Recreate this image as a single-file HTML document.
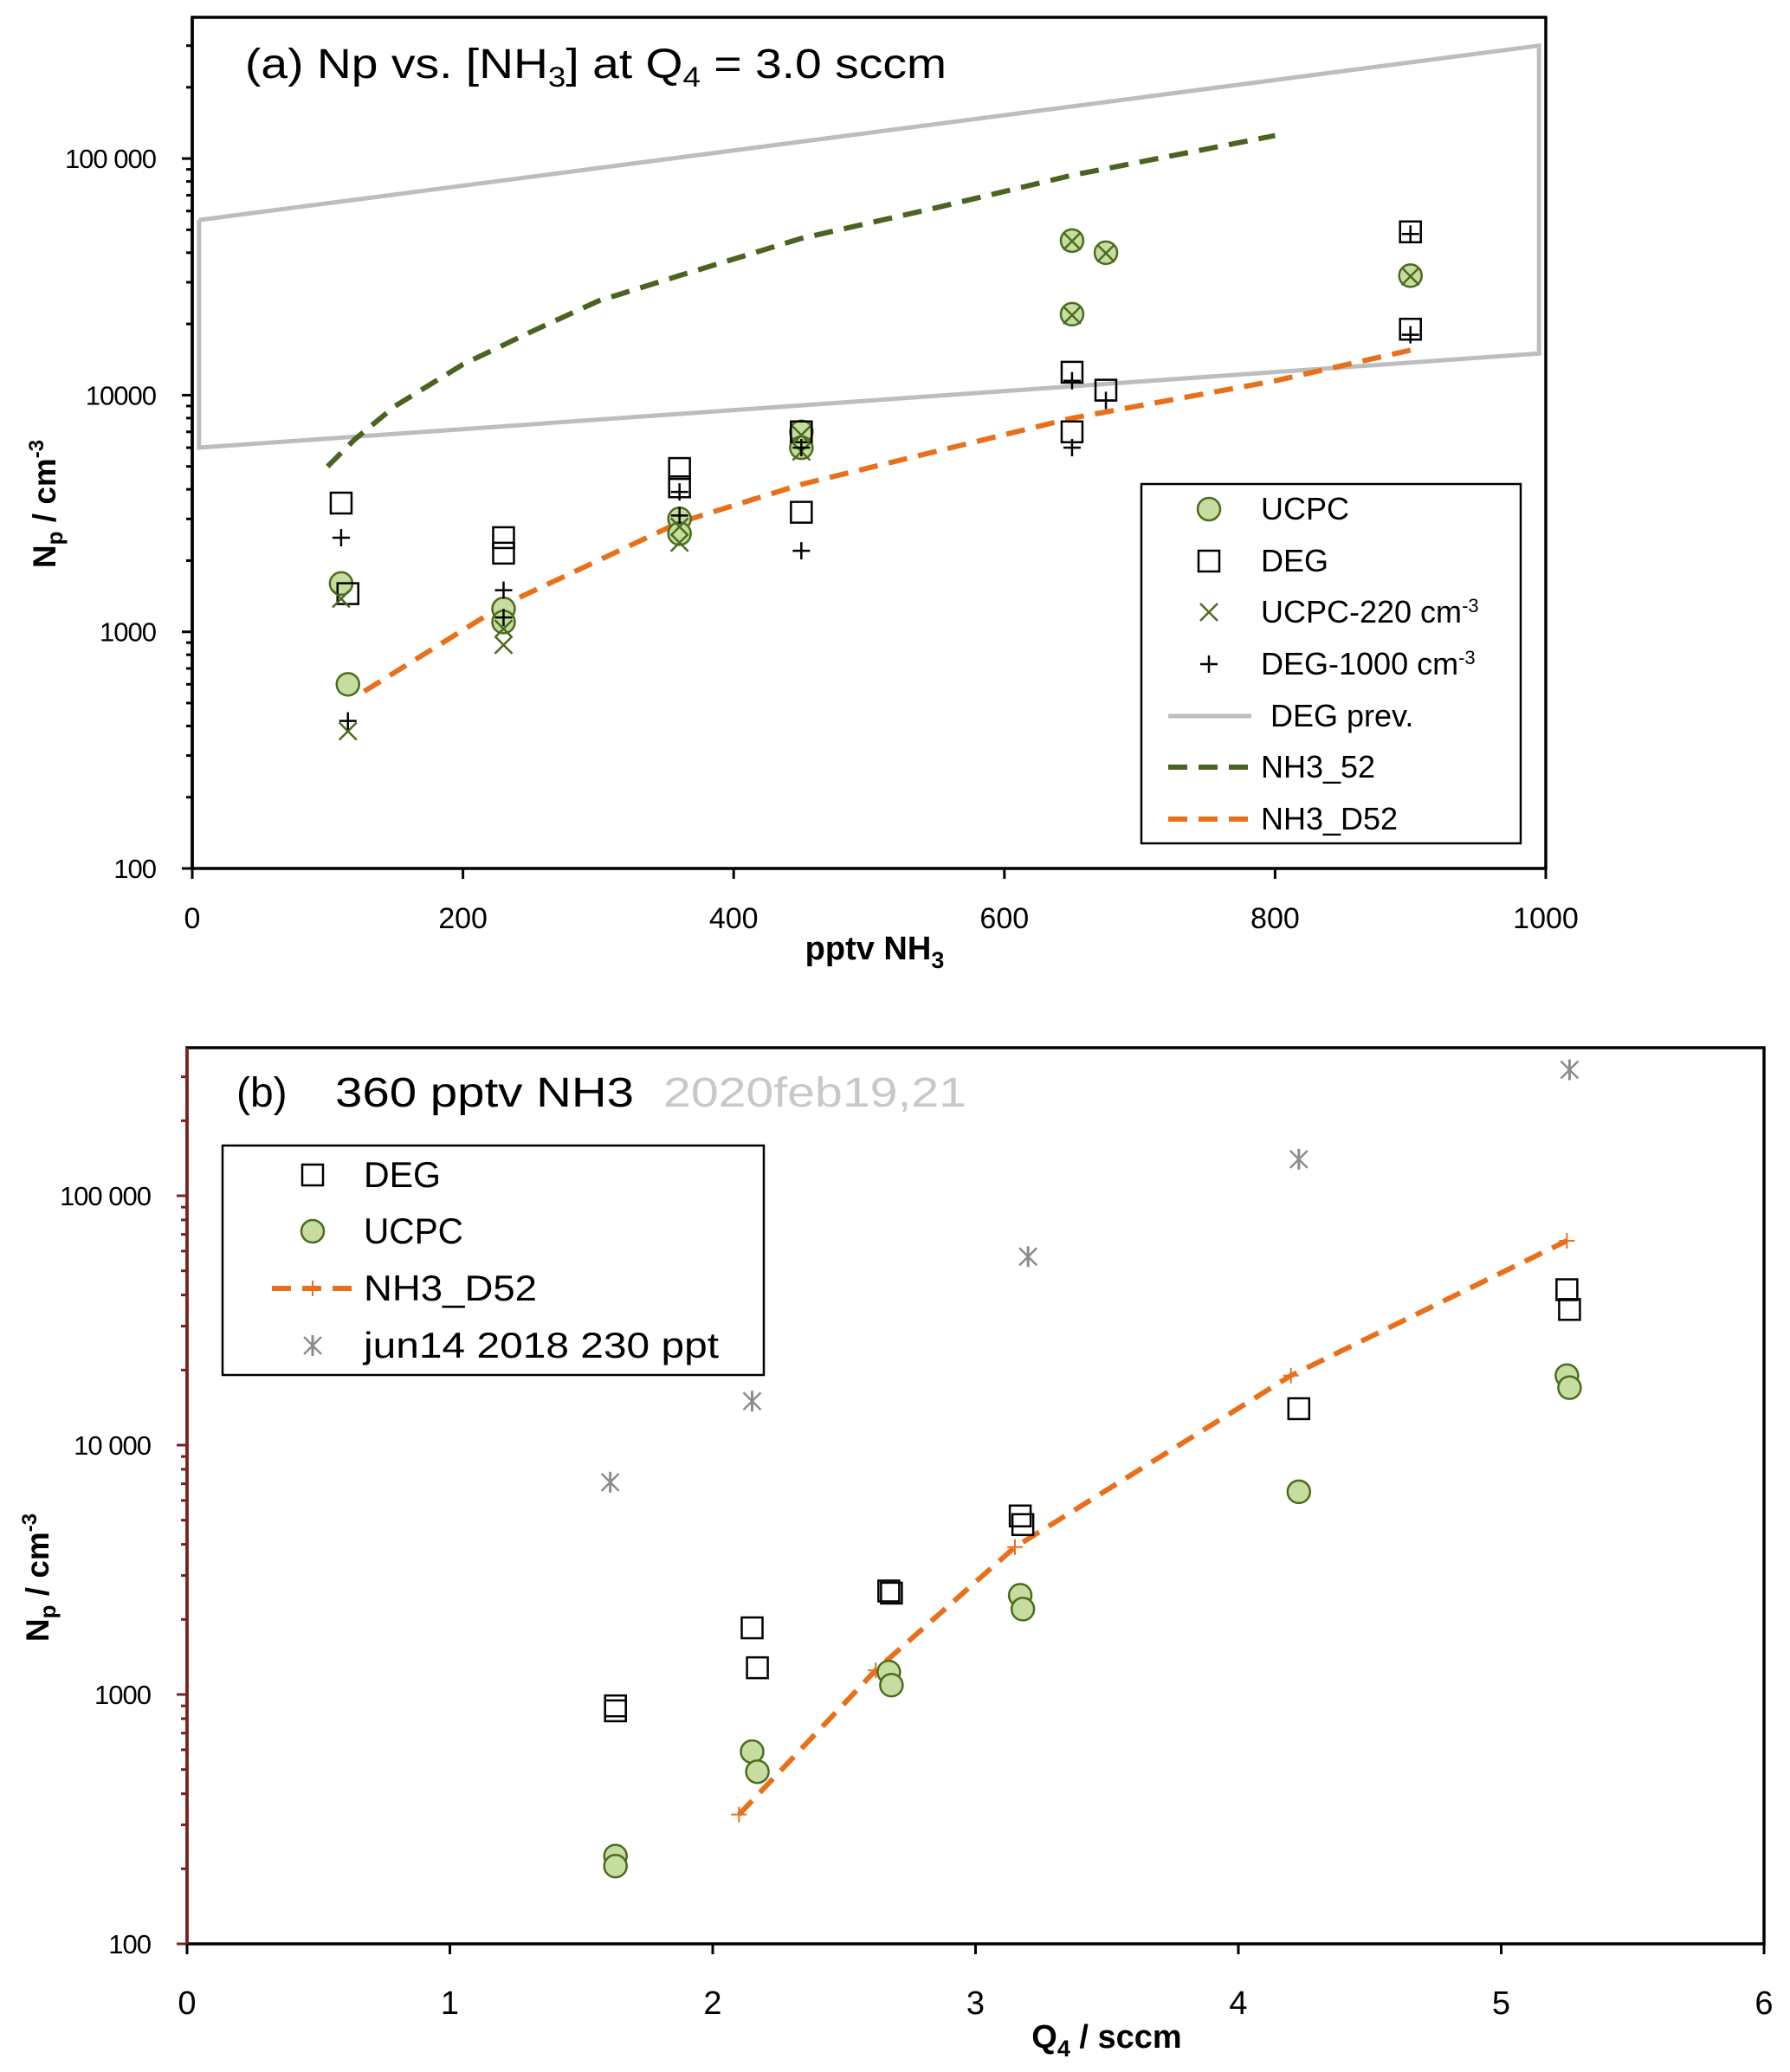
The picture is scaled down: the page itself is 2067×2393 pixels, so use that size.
<!DOCTYPE html>
<html><head><meta charset="utf-8"><style>
body{margin:0;background:#fff}
svg{display:block;font-family:"Liberation Sans",sans-serif}
</style></head><body>
<svg id="chart" width="2067" height="2393" viewBox="0 0 2067 2393" xmlns="http://www.w3.org/2000/svg">
<rect width="2067" height="2393" fill="#fff"/>
<g id="pa"></g>
<g id="pb"></g>
</svg>
<script>
// ---- Panel A data ----
const aXTicks=[0,200,400,600,800,1000];
const aYTicks=[100,1000,10000,100000];
const aYTickLabels=["100","1000","10000","100 000"];
const degPrevX=[5,995,995,5,5];
const degPrevY=[55000,300000,15000,6000,55000];
const nh352X=[100,120,150,200,250,300,360,450,550,650,800];
const nh352Y=[5000,6500,9000,13500,18500,25000,32000,46000,62000,85000,125000];
const nh3d52X=[127,230,360,450,650,800,900];
const nh3d52Y=[560,1300,2900,4200,8000,11500,15500];
const ucpcX=[110,115,230,230,360,360,450,450,650,650,675,900];
const ucpcY=[1600,600,1250,1100,3000,2600,7000,6000,45000,22000,40000,32000];
const degX=[110,115,230,230,360,360,450,450,650,650,675,900,900];
const degY=[3500,1450,2500,2150,4900,4100,7000,3200,12500,7000,10500,49000,19000];
const ucpc220X=[110,115,230,230,360,360,450,450,650,650,675,900];
const ucpc220Y=[1380,380,1030,880,2780,2380,6780,5780,44780,21780,39780,31780];
const deg1000X=[110,115,230,230,360,360,450,450,650,650,675,900,900];
const deg1000Y=[2500,420,1500,1150,3900,3100,6000,2200,11500,6000,9500,48000,18000];
// ---- Panel B data ----
const bXTicks=[0,1,2,3,4,5,6];
const bYTicks=[100,1000,10000,100000];
const bYTickLabels=["100","1000","10 000","100 000"];
const bDegX=[1.63,1.63,2.15,2.17,2.67,2.68,3.17,3.18,4.23,5.25,5.26];
const bDegY=[900,860,1850,1280,2600,2550,5200,4800,14000,42000,35000];
const bUcpcX=[1.63,1.63,2.15,2.17,2.67,2.68,3.17,3.18,4.23,5.25,5.26];
const bUcpcY=[225,205,590,490,1230,1090,2500,2200,6500,19000,17000];
const bD52X=[2.1,2.62,3.15,4.2,5.25];
const bD52Y=[330,1250,3900,19000,66000];
const bJunX=[1.61,2.15,3.2,4.23,5.26];
const bJunY=[7100,15000,57000,140000,320000];

const NS="http://www.w3.org/2000/svg";
function mk(p,tag,at,txt){const e=document.createElementNS(NS,tag);for(const k in at)e.setAttribute(k,at[k]);if(txt!==undefined)e.textContent=txt;p.appendChild(e);return e;}
const GF="#c5dd9f",GS="#4d6b1e",OR="#e8701a";

function drawPanel(g,cfg){
  const X=v=>cfg.l+(v-cfg.x0)/(cfg.x1-cfg.x0)*(cfg.r-cfg.l);
  const Y=v=>cfg.b-(Math.log10(v)-2)*cfg.dec;
  cfg.X=X;cfg.Y=Y;
  const fr=mk(g,'rect',{x:cfg.l,y:cfg.t,width:cfg.r-cfg.l,height:cfg.b-cfg.t,fill:'none',stroke:'#000','stroke-width':3.5});
  
  
  mk(g,'line',{x1:cfg.l,y1:cfg.t,x2:cfg.l,y2:cfg.b,stroke:cfg.axc,'stroke-width':3.5});
  for(let d=2;d<=5;d++){for(let m=1;m<=9;m++){const v=m*Math.pow(10,d);const y=Y(v);if(y<cfg.t-1)continue;
    mk(g,'line',{x1:cfg.l-(m==1?12:7),y1:y,x2:cfg.l,y2:y,stroke:cfg.axc,'stroke-width':3});}}
  cfg.yt.forEach((v,i)=>{const t=mk(g,'text',{x:cfg.l-cfg.ylo,y:Y(v)+11,'text-anchor':'end','font-size':31,'letter-spacing':-1},cfg.ytl[i]);
    
    });
  cfg.xt.forEach(v=>{mk(g,'line',{x1:X(v),y1:cfg.b,x2:X(v),y2:cfg.b+12,stroke:'#000','stroke-width':3});
    const t=mk(g,'text',{x:X(v),y:cfg.xly,'text-anchor':'middle','font-size':cfg.xfs},String(v));
    
    });
}
function path(g,xs,ys,cfg,at,name){let d='';xs.forEach((x,i)=>{d+=(i?'L':'M')+cfg.X(x).toFixed(1)+' '+cfg.Y(ys[i]).toFixed(1)});
  const p=mk(g,'path',Object.assign({d:d,fill:'none'},at));
  
  return p;}
function circ(g,x,y){mk(g,'circle',{cx:x,cy:y,r:13,fill:GF,stroke:GS,'stroke-width':2.5});}
function sq(g,x,y){mk(g,'rect',{x:x-12,y:y-12,width:24,height:24,fill:'none',stroke:'#000','stroke-width':2.5});}
function xm(g,x,y,c,s){mk(g,'path',{d:`M${x-s} ${y-s}L${x+s} ${y+s}M${x-s} ${y+s}L${x+s} ${y-s}`,stroke:c,'stroke-width':2.5});}
function pl(g,x,y,c,s,w){mk(g,'path',{d:`M${x-s} ${y}L${x+s} ${y}M${x} ${y-s}L${x} ${y+s}`,stroke:c,'stroke-width':w||2.5});}
function star(g,x,y){xm(g,x,y,'#8c8c8c',10);mk(g,'path',{d:`M${x} ${y-12}L${x} ${y+12}`,stroke:'#8c8c8c','stroke-width':3});}
function pts(g,xs,ys,cfg,fn,name){const gg=mk(g,'g',{});
  xs.forEach((x,i)=>fn(gg,cfg.X(x),cfg.Y(ys[i])));}

// Panel A
const ga=document.getElementById('pa');
const A={l:222,r:1785,t:20,b:1003,dec:273.3,x0:0,x1:1000,xt:aXTicks,yt:aYTicks,ytl:aYTickLabels,ylo:42,xly:1072,xfs:34,axc:'#000'};
drawPanel(ga,A);
path(ga,degPrevX,degPrevY,A,{stroke:'#bdbdbd','stroke-width':5},'deg-prev-line');
path(ga,nh352X,nh352Y,A,{stroke:'#4b6320','stroke-width':6,'stroke-dasharray':'22 13'},'nh3-52-line');
path(ga,nh3d52X,nh3d52Y,A,{stroke:OR,'stroke-width':6,'stroke-dasharray':'22 13'},'nh3-d52-line');
pts(ga,ucpcX,ucpcY,A,circ,'ucpc-points');
pts(ga,degX,degY,A,sq,'deg-points');
pts(ga,ucpc220X,ucpc220Y,A,(g,x,y)=>xm(g,x,y,GS,10),'ucpc-220-points');
pts(ga,deg1000X,deg1000Y,A,(g,x,y)=>pl(g,x,y,'#000',10),'deg-1000-points');
mk(ga,'text',{x:283,y:90,'font-size':48,textLength:810,lengthAdjust:'spacingAndGlyphs',}).innerHTML='(a) Np vs. [NH<tspan font-size="32" dy="10">3</tspan><tspan dy="-10">] at Q</tspan><tspan font-size="32" dy="10">4</tspan><tspan dy="-10"> = 3.0 sccm</tspan>';
mk(ga,'text',{x:1010,y:1108,'text-anchor':'middle','font-size':38,'font-weight':'bold',}).innerHTML='pptv NH<tspan font-size="27" dy="10">3</tspan>';
mk(ga,'text',{transform:'translate(64,582) rotate(-90)','text-anchor':'middle','font-size':37,'font-weight':'bold',}).innerHTML='N<tspan font-size="26" dy="8">p</tspan><tspan dy="-8"> / cm</tspan><tspan font-size="24" dy="-14">-3</tspan>';
const la=mk(ga,'g',{});
mk(la,'rect',{x:1318,y:559,width:438,height:415,fill:'#fff',stroke:'#000','stroke-width':2.5});
const lr=[588,648,707,767,827,886,946];
circ(la,1396,lr[0]);sq(la,1396,lr[1]);xm(la,1396,lr[2],GS,10);pl(la,1396,lr[3],'#000',10);
mk(la,'line',{x1:1349,y1:lr[4],x2:1445,y2:lr[4],stroke:'#bdbdbd','stroke-width':5});
mk(la,'line',{x1:1349,y1:lr[5],x2:1445,y2:lr[5],stroke:'#4b6320','stroke-width':6,'stroke-dasharray':'22 13'});
mk(la,'line',{x1:1349,y1:lr[6],x2:1445,y2:lr[6],stroke:OR,'stroke-width':6,'stroke-dasharray':'22 13'});
const lt=['UCPC','DEG','UCPC-220 cm<tspan font-size="22" dy="-12">-3</tspan>','DEG-1000 cm<tspan font-size="22" dy="-12">-3</tspan>','DEG prev.','NH3_52','NH3_D52'];
lt.forEach((s,i)=>{const t=mk(la,'text',{x:i==4?1467:1456,y:lr[i]+12,'font-size':36});t.innerHTML=s;
  
  });

// Panel B
const gb=document.getElementById('pb');
const B={l:216,r:2037,t:1210,b:2245,dec:288,x0:0,x1:6,xt:bXTicks,yt:bYTicks,ytl:bYTickLabels,ylo:42,xly:2326,xfs:38,axc:'#7b2020'};
drawPanel(gb,B);
path(gb,bD52X,bD52Y,B,{stroke:OR,'stroke-width':6,'stroke-dasharray':'22 13'},'nh3-d52-line-b');
pts(gb,bD52X,bD52Y,B,(g,x,y)=>pl(g,x,y,OR,9,2),'nh3-d52-markers-b');
pts(gb,bJunX,bJunY,B,star,'jun14-points');
pts(gb,bDegX,bDegY,B,sq,'deg-points-b');
pts(gb,bUcpcX,bUcpcY,B,circ,'ucpc-points-b');
mk(gb,'text',{x:273,y:1278,'font-size':48,},'(b)');
mk(gb,'text',{x:387,y:1278,'font-size':48,textLength:345,lengthAdjust:'spacingAndGlyphs',},'360 pptv NH3');
mk(gb,'text',{x:766,y:1278,'font-size':48,fill:'#c8c8c8',textLength:350,lengthAdjust:'spacingAndGlyphs',},'2020feb19,21');
mk(gb,'text',{x:1278,y:2365,'text-anchor':'middle','font-size':38,'font-weight':'bold',}).innerHTML='Q<tspan font-size="27" dy="10">4</tspan><tspan dy="-10"> / sccm</tspan>';
mk(gb,'text',{transform:'translate(56,1822) rotate(-90)','text-anchor':'middle','font-size':37,'font-weight':'bold',}).innerHTML='N<tspan font-size="26" dy="8">p</tspan><tspan dy="-8"> / cm</tspan><tspan font-size="24" dy="-14">-3</tspan>';
const lb=mk(gb,'g',{});
mk(lb,'rect',{x:257,y:1323,width:625,height:265,fill:'#fff',stroke:'#000','stroke-width':2.5});
const br=[1357,1422,1488,1554];
sq(lb,361,br[0]);circ(lb,361,br[1]);
mk(lb,'line',{x1:314,y1:br[2],x2:406,y2:br[2],stroke:OR,'stroke-width':6,'stroke-dasharray':'22 13'});pl(lb,361,br[2],OR,9,2);
star(lb,361,br[3]);
const bLegLens=[89,115,200,410];
['DEG','UCPC','NH3_D52','jun14 2018 230 ppt'].forEach((s,i)=>{const t=mk(lb,'text',{x:420,y:br[i]+14,'font-size':42,textLength:bLegLens[i],lengthAdjust:'spacingAndGlyphs'},s);
  
  });
</script>
</body></html>
